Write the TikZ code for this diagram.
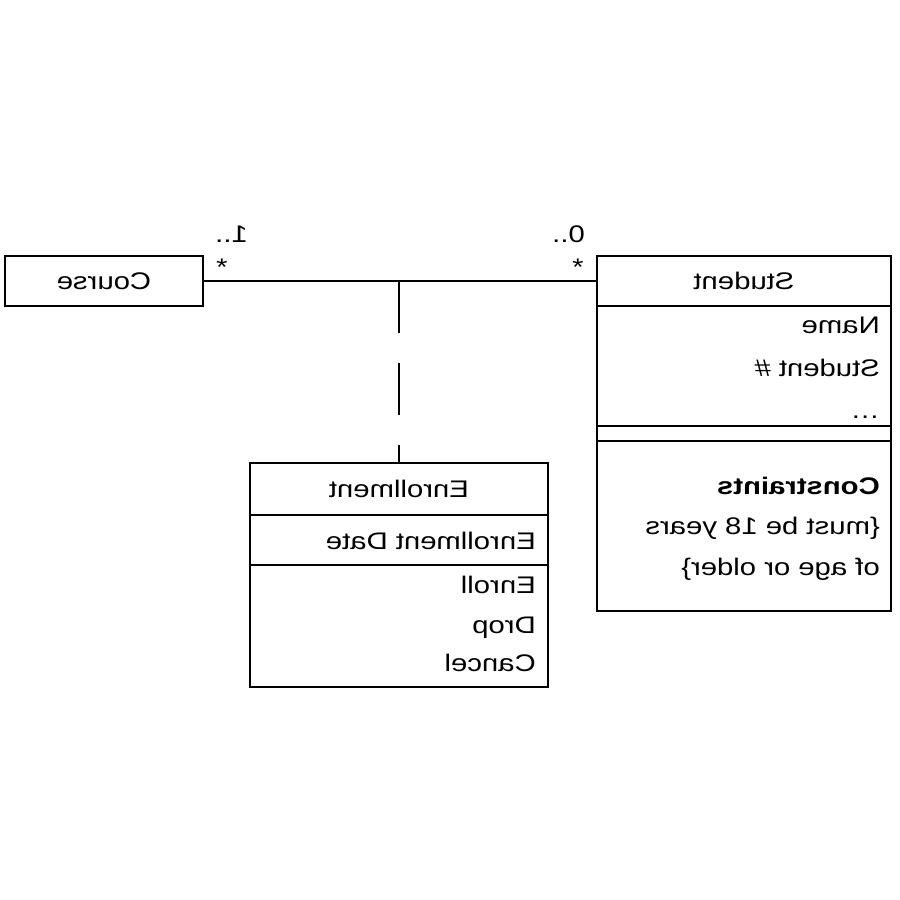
\documentclass[tikz,border=0pt]{standalone}
\usepackage{fontspec}
\setmainfont{Liberation Sans}
\newcommand{\mt}[1]{\scalebox{-1.22}[1]{#1}}
\tikzset{
  box/.style={draw, line width=1.6pt, rectangle, inner sep=0pt, outer sep=0pt},
  txt/.style={inner sep=0pt, font=\fontsize{24}{28}\selectfont},
  conn/.style={line width=1.6pt}
}
\begin{document}
\begin{tikzpicture}[x=1pt,y=-1pt]
\useasboundingbox (0,0) rectangle (900,900);
% Course
\node[box, minimum width=198pt, minimum height=50pt] (course) at (104,281) {};
\node[txt] (coursetxt) at (course.center) {\mt{Course}};
% Student
\node[box, minimum width=294pt, minimum height=50pt] (stuhead) at (744,281) {};
\node[box, minimum width=294pt, minimum height=120pt] (stuattr) at (744,366) {};
\node[box, minimum width=294pt, minimum height=15pt] (stuops) at (744,433.5) {};
\node[box, minimum width=294pt, minimum height=170pt] (stucons) at (744,526) {};
\node[txt] (stutitle) at (stuhead.center) {\mt{Student}};
\node[txt, anchor=base east] (sname) at (880,333) {\mt{Name}};
\node[txt, anchor=base east] (snum) at (880,376) {\mt{Student \#}};
\node[txt, anchor=base east] (sdots) at (880,418) {\mt{\dots}};
\node[txt, anchor=base east] (scons) at (880,494) {\mt{\textbf{Constraints}}};
\node[txt, anchor=base east] (sc1) at (880,534) {\mt{\{must be 18 years}};
\node[txt, anchor=base east] (sc2) at (880,575) {\mt{of age or older\}}};
% Enrollment
\node[box, minimum width=298pt, minimum height=52pt] (enrhead) at (399,489) {};
\node[box, minimum width=298pt, minimum height=50pt] (enrattr) at (399,540) {};
\node[box, minimum width=298pt, minimum height=122pt] (enrops) at (399,626) {};
\node[txt] (enrtitle) at (enrhead.center) {\mt{Enrollment}};
\node[txt, anchor=base east] (edate) at (536,549) {\mt{Enrollment Date}};
\node[txt, anchor=base east] (eenroll) at (536,593) {\mt{Enroll}};
\node[txt, anchor=base east] (edrop) at (536,633) {\mt{Drop}};
\node[txt, anchor=base east] (ecancel) at (536,671) {\mt{Cancel}};
% Connectors
\draw[conn] (course.east) -- (stuhead.west);
\coordinate (mid) at (enrhead.north |- course.east);
\draw[conn, dash pattern=on 52pt off 30pt] (mid) -- (enrhead.north);
% Multiplicities
\node[txt, anchor=base east] (m1) at (248,242) {\mt{1..}};
\node[txt] (s1) at (222,267) {\mt{*}};
\node[txt, anchor=base east] (m2) at (585,242) {\mt{0..}};
\node[txt] (s2) at (578,267) {\mt{*}};
\end{tikzpicture}
\end{document}
